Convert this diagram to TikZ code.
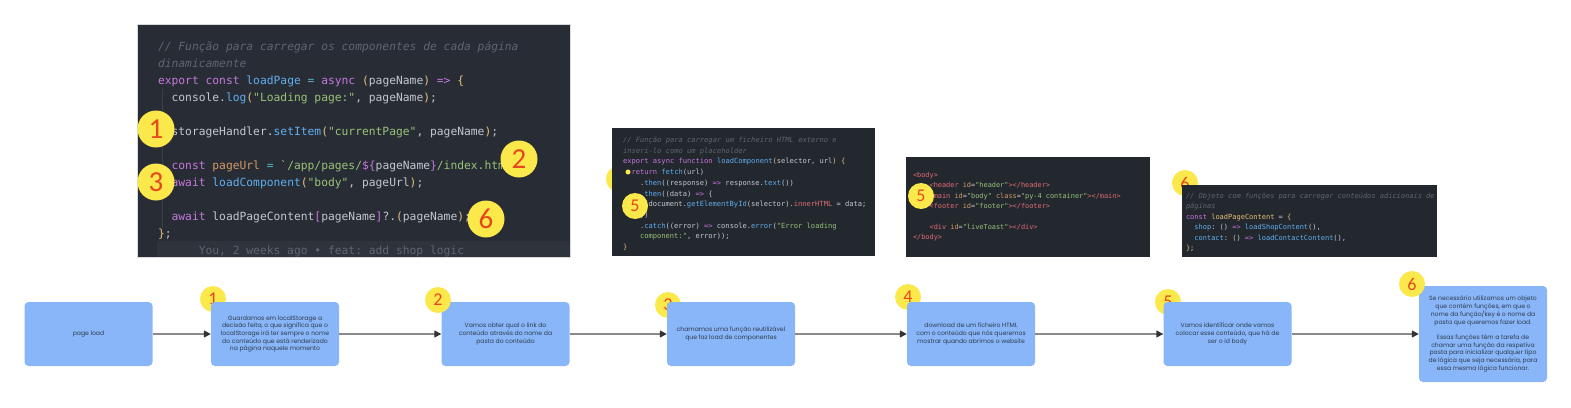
\documentclass[tikz,border=0pt]{standalone}
\usepackage{fontspec}
\setmonofont{DejaVu Sans Mono}
\newfontfamily\boxfont{Poppins}
\newfontfamily\numfont{Carlito}
\usetikzlibrary{arrows.meta}
\definecolor{codebg}{HTML}{282C34}
\definecolor{codebgb}{HTML}{23272E}
\definecolor{cband}{HTML}{2F333B}
\definecolor{cguide}{HTML}{3B4048}
\definecolor{cplain}{HTML}{C3C8D0}
\definecolor{ckwc}{HTML}{C678DD}
\definecolor{cfnc}{HTML}{61AFEF}
\definecolor{cstrc}{HTML}{98C379}
\definecolor{cyelc}{HTML}{E5C07B}
\definecolor{corgc}{HTML}{D19A66}
\definecolor{ccomc}{HTML}{5F6672}
\definecolor{credc}{HTML}{E06C75}
\definecolor{ccyc}{HTML}{56B6C2}
\definecolor{circyel}{HTML}{FBE84B}
\definecolor{circnum}{HTML}{E8471C}
\definecolor{boxblue}{HTML}{88B6F8}
\definecolor{boxtext}{HTML}{2E3B4E}
\definecolor{arrgray}{HTML}{8A8A8A}
\definecolor{arrtip}{HTML}{333333}
\newcommand\ckw[1]{\textcolor{ckwc}{#1}}
\newcommand\cfn[1]{\textcolor{cfnc}{#1}}
\newcommand\cstr[1]{\textcolor{cstrc}{#1}}
\newcommand\cyel[1]{\textcolor{cyelc}{#1}}
\newcommand\corg[1]{\textcolor{corgc}{#1}}
\newcommand\ccy[1]{\textcolor{ccyc}{#1}}
\newcommand\cred[1]{\textcolor{credc}{#1}}
\newcommand\ccom[1]{{\itshape\color{ccomc}#1}}
\tikzset{
  bigcode/.style={anchor=base west, inner sep=0, outer sep=0, text=cplain, font=\ttfamily\fontsize{11.3}{13}\selectfont},
  smcode/.style={anchor=base west, inner sep=0, outer sep=0, text=cplain, font=\ttfamily\fontsize{7.1}{8}\selectfont},
  htcode/.style={anchor=base west, inner sep=0, outer sep=0, text=cplain, font=\ttfamily\fontsize{6.9}{8}\selectfont},
  obcode/.style={anchor=base west, inner sep=0, outer sep=0, text=cplain, font=\ttfamily\fontsize{7}{8}\selectfont},
  bigcirc/.style={circle, fill=circyel, minimum size=37pt, inner sep=0, text=circnum, font=\numfont\fontsize{29}{29}\selectfont},
  smcirc/.style={circle, fill=circyel, minimum size=26pt, inner sep=0, text=circnum, font=\numfont\fontsize{18}{18}\selectfont},
  flowbox/.style={rectangle, rounded corners=4pt, fill=boxblue, minimum width=128pt, minimum height=64pt, align=center, inner sep=0, text=boxtext, font=\boxfont\fontsize{6.1}{7.7}\selectfont},
  conn/.style={draw=arrgray, line width=1.4pt, -{Triangle[length=7pt,width=7pt,color=arrtip]}},
}
\begin{document}
\begin{tikzpicture}[x=1pt,y=-1pt]
\path[use as bounding box, fill=white] (0,0) rectangle (1571,407);

% circles behind blocks/boxes
\node[smcirc] (pc1) at (619,179) {};
\node[smcirc] (pc6) at (1185,183) {6};
\node[smcirc] (bc1) at (213,299) {1};
\node[smcirc] (bc3) at (668,305) {3};
\node[smcirc] (bc4) at (908,297) {4};
\node[smcirc] (bc5) at (1168,302) {5};

% big code block
\path[fill=codebg, draw=black!15] (137,24) rectangle (570,257);
\path[fill=cband] (157,241) rectangle (570,257);
\path[draw=cguide, line width=0.8pt] (162,89) -- (162,228);
\node[bigcode] (l1) at (158,50) {\ccom{// Função para carregar os componentes de cada página}};
\node[bigcode] (l2) at (158,67) {\ccom{dinamicamente}};
\node[bigcode] (l3) at (158,84) {\ckw{export} \ckw{const} \cfn{loadPage} \ccy{=} \ckw{async} \cyel{(}pageName\cyel{)} \ckw{=>} \cyel{\{}};
\node[bigcode] (l4) at (171.6,101) {console.\cfn{log}\cyel{(}\cstr{"Loading page:"}, pageName\cyel{)};};
\node[bigcode] (l5) at (171.6,135) {storageHandler.\cfn{setItem}\cyel{(}\cstr{"currentPage"}, pageName\cyel{)};};
\node[bigcode] (l6) at (171.6,169) {\ckw{const} \corg{pageUrl} \ccy{=} \cstr{`/app/pages/}\ckw{\$\{}pageName\ckw{\}}\cstr{/index.html`};};
\node[bigcode] (l7) at (171.6,186) {\ckw{await} \cfn{loadComponent}\cyel{(}\cstr{"body"}, pageUrl\cyel{)};};
\node[bigcode] (l8) at (171.6,220) {\ckw{await} loadPageContent\ckw{[}pageName\ckw{]}?.\cyel{(}pageName\cyel{)};};
\node[bigcode] (l9) at (158,237) {\cyel{\}};};
\node[bigcode] (l10) at (198.8,254) {\textcolor{ccomc}{You, 2 weeks ago • feat: add shop logic}};

% small code block 1
\path[fill=codebgb] (612,128) rectangle (875,256);
\fill[circyel] (628,172) circle (2.5pt);
\node[smcode] (s1) at (623,142.5) {\ccom{// Função para carregar um ficheiro HTML externo e}};
\node[smcode] (s2) at (623,153.2) {\ccom{inseri-lo como um placeholder}};
\node[smcode] (s3) at (623,163.9) {\ckw{export} \ckw{async} \ckw{function} \cfn{loadComponent}\cyel{(}selector, url\cyel{)} \cyel{\{}};
\node[smcode] (s4) at (631.5,174.6) {\ckw{return} \cfn{fetch}(url)};
\node[smcode] (s5) at (640,185.3) {.\cfn{then}((response) \ckw{=>} response.\cfn{text}())};
\node[smcode] (s6) at (640,196) {.\cfn{then}((data) \ckw{=>} \{};
\node[smcode] (s7) at (648.5,206.7) {document.\cfn{getElementById}(selector).\cred{innerHTML} = data;};
\node[smcode] (s8) at (640,217.4) {\})};
\node[smcode] (s9) at (640,228.1) {.\cfn{catch}((error) \ckw{=>} console.\cfn{error}(\cstr{"Error loading}};
\node[smcode] (s10) at (640,238.8) {\cstr{component:"}, error));};
\node[smcode] (s11) at (623,249.5) {\cyel{\}}};

% small code block 2
\path[fill=codebgb] (906,157) rectangle (1150,257);
\node[htcode] (h1) at (913,177.5) {\cred{<body>}};
\node[htcode] (h2) at (929.6,187.8) {\cred{<header} \corg{id}=\cstr{"header"}\cred{></header>}};
\node[htcode] (h3) at (929.6,198.1) {\cred{<main} \corg{id}=\cstr{"body"} \corg{class}=\cstr{"py-4 container"}\cred{></main>}};
\node[htcode] (h4) at (929.6,208.4) {\cred{<footer} \corg{id}=\cstr{"footer"}\cred{></footer>}};
\node[htcode] (h5) at (929.6,229) {\cred{<div} \corg{id}=\cstr{"liveToast"}\cred{></div>}};
\node[htcode] (h6) at (913,239.3) {\cred{</body>}};

% small code block 3
\path[fill=codebgb] (1182,185) rectangle (1437,257);
\node[obcode] (o1) at (1186,198.5) {\ccom{// Objeto com funções para carregar conteúdos adicionais de}};
\node[obcode] (o2) at (1186,208.9) {\ccom{páginas}};
\node[obcode] (o3) at (1186,219.3) {\ckw{const} \cyel{loadPageContent} = \cyel{\{}};
\node[obcode] (o4) at (1194.4,229.7) {\cfn{shop}: () \ckw{=>} \cfn{loadShopContent}(),};
\node[obcode] (o5) at (1194.4,240.1) {\cfn{contact}: () \ckw{=>} \cfn{loadContactContent}(),};
\node[obcode] (o6) at (1186,250.5) {\cyel{\}};};

% flow boxes
\node[flowbox] (b0) at (88.5,334) {page load};
\node[flowbox] (b1) at (275,334) {Guardamos em localStorage a\\decisão feita, o que significa que o\\localStorage irá ter sempre o nome\\do conteúdo que está renderizado\\na página naquele momento};
\node[flowbox] (b2) at (505.5,334) {Vamos obter qual o link do\\conteúdo através do nome da\\pasta do conteúdo};
\node[flowbox] (b3) at (731,334) {chamamos uma função reutilizável\\que faz load de componentes};
\node[flowbox] (b4) at (971,334) {download de um ficheiro HTML\\com o conteúdo que nós queremos\\mostrar quando abrimos o website};
\node[flowbox] (b5) at (1227.5,334) {Vamos identificar onde vamos\\colocar esse conteúdo, que há de\\ser o id body};
\node[flowbox, minimum height=96pt] (b6) at (1483,334) {Se necessário utilizamos um objeto\\que contém funções, em que o\\nome da função/key é o nome da\\pasta que queremos fazer load.\\[7.7pt]Essas funções têm a tarefa de\\chamar uma função da respetiva\\pasta para inicializar qualquer tipo\\de lógica que seja necessária, para\\essa mesma lógica funcionar.};

% connectors
\draw[conn] (b0.east) -- (b1.west);
\draw[conn] (b1.east) -- (b2.west);
\draw[conn] (b2.east) -- (b3.west);
\draw[conn] (b3.east) -- (b4.west);
\draw[conn] (b4.east) -- (b5.west);
\draw[conn] (b5.east) -- (b6.west);

% circles in front
\node[bigcirc] (c1) at (156,129) {1};
\node[bigcirc] (c2) at (519,159) {2};
\node[bigcirc] (c3) at (156,182) {3};
\node[bigcirc] (c6) at (486,219) {6};
\node[smcirc] (s5c) at (635,206) {5};
\node[smcirc] (h5c) at (921,196) {5};
\node[smcirc] (bc2) at (438,300) {2};
\node[smcirc] (bc6) at (1412,284) {6};
\end{tikzpicture}
\end{document}
